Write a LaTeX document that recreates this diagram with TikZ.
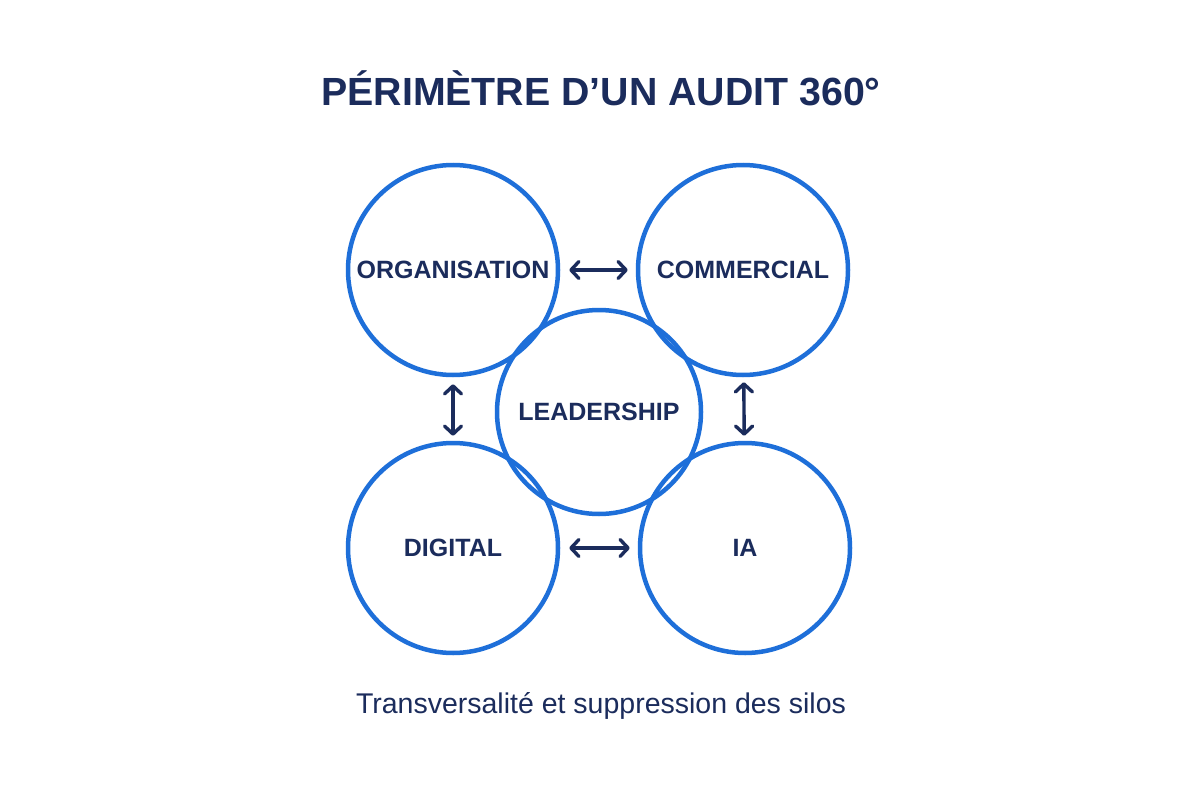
\documentclass[tikz,border=0pt]{standalone}
\usepackage{fontspec}
\setmainfont{Liberation Sans}
\usetikzlibrary{arrows.meta}
\definecolor{navy}{HTML}{1B2C5C}
\definecolor{ringblue}{HTML}{1E6FD9}
\tikzset{
  ring/.style={circle, draw=ringblue, line width=4.5pt, minimum size=210pt, inner sep=0pt,
    font=\fontsize{25}{25}\selectfont\bfseries, text=navy},
  link/.style={draw=navy, line width=3.4pt, line cap=round,
    {Straight Barb[length=8pt,width=17pt,line cap=round,line join=round]}-{Straight Barb[length=8pt,width=17pt,line cap=round,line join=round]}},
}
\begin{document}
\begin{tikzpicture}[x=1pt,y=-1pt]
\useasboundingbox[fill=white] (0,0) rectangle (1200,800);
\node[font=\fontsize{39.3}{40}\selectfont\bfseries, text=navy] (title) at (601,88) {PÉRIMÈTRE D’UN AUDIT 360°};
\node[ring] (org) at (453,270) {ORGANISATION};
\node[ring] (com) at (743,270) {COMMERCIAL};
\node[ring, minimum size=204pt] (lead) at (599,412) {LEADERSHIP};
\node[ring] (dig) at (453,548) {DIGITAL};
\node[ring] (ia) at (745,548) {IA};
\node[font=\fontsize{28.5}{28.5}\selectfont, text=navy] (cap) at (601,706) {Transversalité et suppression des silos};
\draw[link, shorten <=9pt, shorten >=8pt] (org) -- (com);
\draw[link, shorten <=9pt, shorten >=8pt] (dig) -- (ia);
\draw[link, shorten <=7pt, shorten >=5pt] (org) -- (dig);
\draw[link, shorten <=5pt, shorten >=5pt] (com) -- (ia);
\end{tikzpicture}
\end{document}
